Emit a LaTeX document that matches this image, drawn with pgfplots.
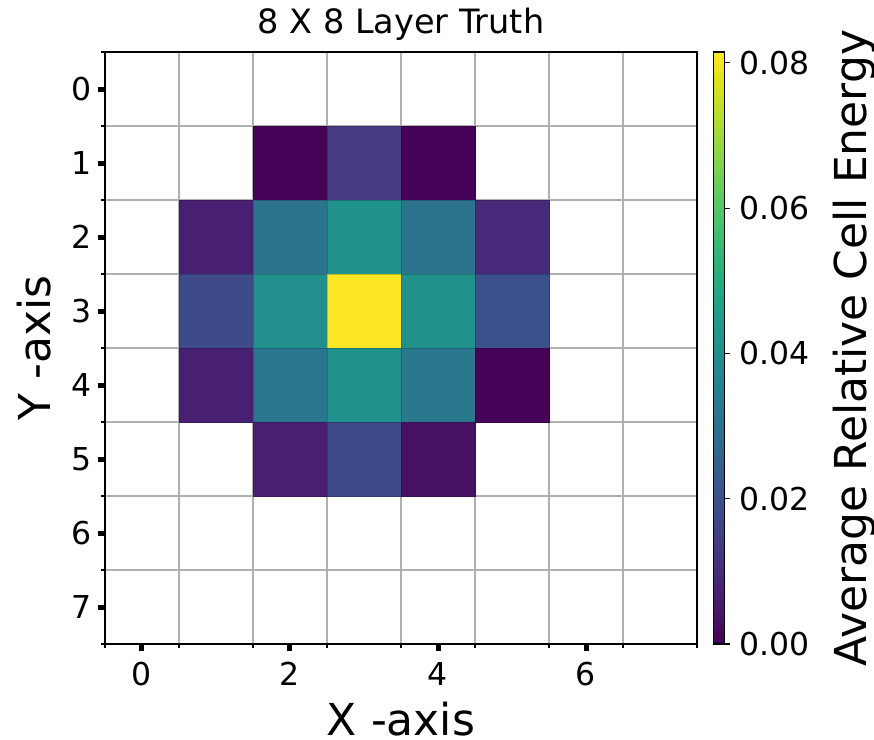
\documentclass[border=0pt]{standalone}
\usepackage{pgfplots}
\pgfplotsset{compat=1.18}
\usepackage{fontspec}
\setmainfont{DejaVu Sans}
\definecolor{gridgray}{HTML}{B0B0B0}

% energy per cell (column, row, value); empty cells are left white
\pgfplotstableread{
x y v
2 1 0.0005
3 1 0.0140
4 1 0.0005
1 2 0.0070
2 2 0.0310
3 2 0.0420
4 2 0.0310
5 2 0.0095
1 3 0.0185
2 3 0.0405
3 3 0.0815
4 3 0.0410
5 3 0.0200
1 4 0.0070
2 4 0.0320
3 4 0.0410
4 4 0.0325
5 4 0.0004
2 5 0.0070
3 5 0.0180
4 5 0.0033
}\cells

\begin{document}
\begin{tikzpicture}
\useasboundingbox (-105pt,-95pt) rectangle (769pt,644pt);
\begin{axis}[
  at={(0,0)}, anchor=south west,
  scale only axis, width=592pt, height=592pt,
  xmin=-0.5, xmax=7.5, ymin=-0.5, ymax=7.5,
  y dir=reverse,
  axis on top,
  xtick={0,2,4,6}, ytick={0,1,...,7},
  minor xtick={-0.5,0.5,...,7.5}, minor ytick={-0.5,0.5,...,7.5},
  grid=minor,
  minor grid style={gridgray, line width=1.5pt},
  tick pos=left, tick align=outside,
  major tick length=7pt, minor tick length=4pt,
  every major tick/.append style={line width=5pt, black},
  every minor tick/.append style={line width=1.5pt, black},
  axis line style={line width=1.5pt},
  /pgf/number format/assume math mode=true,
  tick label style={font=\fontsize{31.5}{36}\selectfont},
  xticklabel style={anchor=base, yshift=-34pt},
  yticklabel style={anchor=east, inner sep=0pt, xshift=-6pt},
  title={8 X 8 Layer Truth},
  title style={at={(axis description cs:0.5,1)}, anchor=base, yshift=13pt, font=\fontsize{33.5}{38}\selectfont},
  xlabel={X -axis},
  ylabel={Y -axis},
  every axis x label/.style={at={(axis description cs:0.5,0)}, anchor=base, yshift=-91pt, font=\fontsize{44}{50}\selectfont},
  every axis y label/.style={at={(axis description cs:0,0.5)}, xshift=-54pt, anchor=base, rotate=90, font=\fontsize{44}{50}\selectfont},
  colormap name=viridis,
  point meta min=0, point meta max=0.0815,
  colorbar,
  colorbar style={
    at={(parent axis.north east)}, anchor=north west, xshift=8pt,
    width=11pt,
    ytick={0,0.02,...,0.08},
    scaled y ticks=false,
    ytick pos=right, yticklabel pos=right,
    tick align=outside,
    major tick length=5pt,
    every major tick/.append style={line width=1.2pt, black},
    axis line style={line width=1.2pt},
    /pgf/number format/assume math mode=true,
    yticklabel style={/pgf/number format/.cd, fixed, fixed zerofill, precision=2, /tikz/.cd,
      font=\fontsize{31.5}{36}\selectfont, anchor=west, inner sep=0pt, xshift=10pt},
    ylabel={Average Relative Cell Energy},
    every axis y label/.style={at={(axis description cs:1,0.5)}, xshift=142pt, anchor=base, rotate=90, font=\fontsize{44}{50}\selectfont},
  },
]
\addplot[scatter, only marks, mark=square*, mark size=37pt,
  point meta=explicit] table[x=x, y=y, meta=v] {\cells};
\end{axis}
\end{tikzpicture}
\end{document}
